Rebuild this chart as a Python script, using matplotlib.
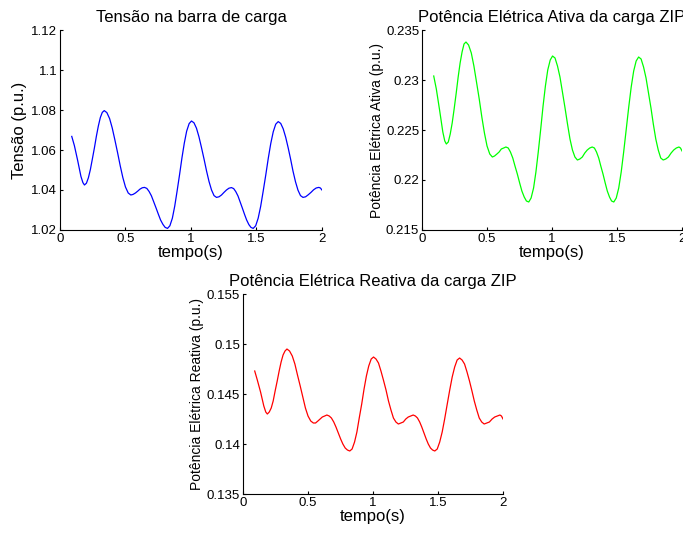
import numpy as np
import matplotlib
matplotlib.use('Agg')
import matplotlib.pyplot as plt

plt.rcParams['font.family'] = ['Liberation Sans', 'DejaVu Sans']

# simulation time (s)
tempo = [
  0.09, 0.11, 0.135, 0.16, 0.175, 0.187,
  0.202, 0.217, 0.232, 0.247, 0.263, 0.278, 0.293, 0.308, 0.323, 0.338,
  0.358, 0.379, 0.399, 0.419, 0.440, 0.460, 0.480, 0.500, 0.521, 0.541,
  0.558, 0.576, 0.593, 0.610, 0.628, 0.645,
  0.663, 0.680, 0.698, 0.715, 0.733, 0.751, 0.768, 0.786, 0.803, 0.821,
  0.839, 0.858, 0.876, 0.894, 0.913, 0.931, 0.949, 0.967, 0.986, 1.004,
  1.023, 1.042, 1.061, 1.080, 1.100, 1.119, 1.138, 1.157, 1.176, 1.195,
  1.214, 1.233, 1.252, 1.271, 1.290, 1.309,
  1.326, 1.342, 1.359, 1.375, 1.392, 1.409, 1.425, 1.442, 1.458, 1.475,
  1.494, 1.513, 1.532, 1.551, 1.571, 1.590, 1.609, 1.628, 1.647, 1.666,
  1.685, 1.704, 1.723, 1.742, 1.761, 1.779, 1.798, 1.817, 1.836, 1.855,
  1.875, 1.895, 1.916, 1.936, 1.956, 1.976,
  1.988, 2.0,
]

# load bus voltage (p.u.)
tensao = [
  1.0668, 1.0622, 1.0548, 1.0468, 1.0437, 1.0425,
  1.0434, 1.0461, 1.0502, 1.0554, 1.0611, 1.0669, 1.0720, 1.0762, 1.0788, 1.0797,
  1.0787, 1.0757, 1.0710, 1.0651, 1.0586, 1.0521, 1.0462, 1.0415, 1.0385, 1.0375,
  1.0378, 1.0385, 1.0394, 1.0404, 1.0411, 1.0413,
  1.0408, 1.0393, 1.0371, 1.0342, 1.0311, 1.0279, 1.0250, 1.0228, 1.0213, 1.0208,
  1.0221, 1.0259, 1.0319, 1.0394, 1.0477, 1.0560, 1.0634, 1.0694, 1.0732, 1.0745,
  1.0736, 1.0709, 1.0666, 1.0613, 1.0554, 1.0495, 1.0442, 1.0400, 1.0372, 1.0363,
  1.0366, 1.0375, 1.0388, 1.0400, 1.0409, 1.0412,
  1.0407, 1.0392, 1.0370, 1.0341, 1.0310, 1.0278, 1.0250, 1.0227, 1.0213, 1.0208,
  1.0221, 1.0259, 1.0318, 1.0393, 1.0475, 1.0558, 1.0632, 1.0691, 1.0729, 1.0742,
  1.0733, 1.0706, 1.0664, 1.0611, 1.0553, 1.0494, 1.0441, 1.0399, 1.0372, 1.0363,
  1.0366, 1.0376, 1.0388, 1.0401, 1.0410, 1.0413,
  1.0410, 1.0400,
]

# active power of the ZIP load (p.u.)
p_ativa = [
  0.2304, 0.2291, 0.2270, 0.2248, 0.2239, 0.2236,
  0.2238, 0.2246, 0.2257, 0.2271, 0.2287, 0.2303, 0.2317, 0.2328, 0.2336, 0.2338,
  0.2335, 0.2327, 0.2314, 0.2298, 0.2281, 0.2263, 0.2247, 0.2234, 0.2226, 0.2223,
  0.2224, 0.2226, 0.2228, 0.2231, 0.2232, 0.2233,
  0.2232, 0.2228, 0.2222, 0.2214, 0.2206, 0.2197, 0.2189, 0.2183, 0.2179, 0.2178,
  0.2182, 0.2192, 0.2208, 0.2228, 0.2251, 0.2274, 0.2294, 0.2310, 0.2320, 0.2324,
  0.2322, 0.2314, 0.2303, 0.2288, 0.2272, 0.2256, 0.2241, 0.2230, 0.2223, 0.2220,
  0.2221, 0.2223, 0.2227, 0.2230, 0.2232, 0.2233,
  0.2232, 0.2228, 0.2222, 0.2214, 0.2206, 0.2197, 0.2189, 0.2183, 0.2179, 0.2178,
  0.2182, 0.2192, 0.2208, 0.2228, 0.2251, 0.2273, 0.2293, 0.2309, 0.2319, 0.2323,
  0.2321, 0.2313, 0.2302, 0.2287, 0.2272, 0.2256, 0.2241, 0.2230, 0.2222, 0.2220,
  0.2221, 0.2223, 0.2227, 0.2230, 0.2232, 0.2233,
  0.2232, 0.2229,
]

# reactive power of the ZIP load (p.u.)
q_reativa = [
  0.1473, 0.1464, 0.1452, 0.1438, 0.1432, 0.1430,
  0.1432, 0.1436, 0.1443, 0.1453, 0.1463, 0.1473, 0.1482, 0.1489, 0.1493, 0.1495,
  0.1493, 0.1488, 0.1480, 0.1469, 0.1458, 0.1447, 0.1436, 0.1428, 0.1423, 0.1421,
  0.1421, 0.1423, 0.1425, 0.1427, 0.1428, 0.1429,
  0.1428, 0.1426, 0.1422, 0.1417, 0.1411, 0.1405, 0.1400, 0.1396, 0.1394, 0.1393,
  0.1395, 0.1402, 0.1412, 0.1426, 0.1440, 0.1455, 0.1468, 0.1478, 0.1485, 0.1487,
  0.1485, 0.1481, 0.1473, 0.1464, 0.1454, 0.1443, 0.1434, 0.1426, 0.1422, 0.1420,
  0.1421, 0.1422, 0.1425, 0.1427, 0.1428, 0.1429,
  0.1428, 0.1426, 0.1422, 0.1417, 0.1411, 0.1405, 0.1400, 0.1396, 0.1394, 0.1393,
  0.1395, 0.1402, 0.1412, 0.1425, 0.1440, 0.1454, 0.1467, 0.1477, 0.1484, 0.1486,
  0.1484, 0.1480, 0.1472, 0.1463, 0.1453, 0.1443, 0.1434, 0.1426, 0.1422, 0.1420,
  0.1421, 0.1422, 0.1425, 0.1427, 0.1428, 0.1429,
  0.1428, 0.1425,
]

x_ticks = [0, 0.5, 1, 1.5, 2]
x_ticklabels = ['0', '0.5', '1', '1.5', '2']
v_ticks = [1.02, 1.04, 1.06, 1.08, 1.1, 1.12]
v_ticklabels = ['1.02', '1.04', '1.06', '1.08', '1.1', '1.12']
p_ticks = [0.215, 0.22, 0.225, 0.23, 0.235]
p_ticklabels = ['0.215', '0.22', '0.225', '0.23', '0.235']
q_ticks = [0.135, 0.14, 0.145, 0.15, 0.155]
q_ticklabels = ['0.135', '0.14', '0.145', '0.15', '0.155']


def matlab_axes(ax, yticks, yticklabels):
  # open box, inward ticks, like the default MATLAB look
  ax.spines['top'].set_visible(False)
  ax.spines['right'].set_visible(False)
  for side in ('left', 'bottom'):
    ax.spines[side].set_linewidth(0.8)
  ax.set_xlim(0, 2)
  ax.set_ylim(yticks[0], yticks[-1])
  ax.set_xticks(x_ticks)
  ax.set_xticklabels(x_ticklabels)
  ax.set_yticks(yticks)
  ax.set_yticklabels(yticklabels)
  ax.tick_params(direction='in', length=2.5, width=0.8, labelsize=9.5)
  ax.tick_params(axis='x', pad=2.5)
  ax.tick_params(axis='y', pad=2)
  ax.set_xlabel('tempo(s)', fontsize=12, labelpad=0)


fig = plt.figure(figsize=(6.83, 5.34), dpi=100)

ax1 = fig.add_axes([0.0878, 0.5693, 0.3836, 0.3745])
ax1.plot(tempo, tensao, color=(0, 0, 1), lw=0.9)
matlab_axes(ax1, v_ticks, v_ticklabels)
ax1.set_title('Tensão na barra de carga', fontsize=12, pad=6)
ax1.set_ylabel('Tensão (p.u.)', fontsize=12, labelpad=3)

ax2 = fig.add_axes([0.6179, 0.5693, 0.3807, 0.3745])
ax2.plot(tempo, p_ativa, color=(0, 1, 0), lw=0.9)
matlab_axes(ax2, p_ticks, p_ticklabels)
ax2.set_title('Potência Elétrica Ativa da carga ZIP', fontsize=12, pad=6)
ax2.set_ylabel('Potência Elétrica Ativa (p.u.)', fontsize=10, labelpad=1.5)

ax3 = fig.add_axes([0.3558, 0.0749, 0.3807, 0.3745])
ax3.plot(tempo, q_reativa, color=(1, 0, 0), lw=0.9)
matlab_axes(ax3, q_ticks, q_ticklabels)
ax3.set_title('Potência Elétrica Reativa da carga ZIP', fontsize=12, pad=6)
ax3.set_ylabel('Potência Elétrica Reativa (p.u.)', fontsize=10, labelpad=2)

fig.savefig('out.png', dpi=100, facecolor='white')
